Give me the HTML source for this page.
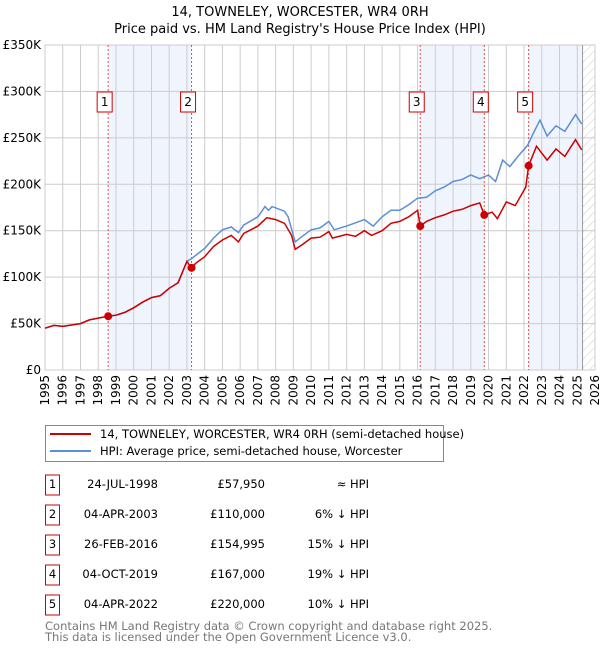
<!DOCTYPE html>
<html><head><meta charset="utf-8"><style>
body{margin:0;background:#fff;font-family:"Liberation Sans","DejaVu Sans",sans-serif;}
#wrap{position:relative;width:600px;height:650px;overflow:hidden}
svg text{font-family:"DejaVu Sans","Liberation Sans",sans-serif}
</style></head><body>
<div id="wrap">
<svg id="chart" width="600" height="650"></svg>
</div>
<script>
const redX=[1995,1995.5,1996,1997,1997.5,1998.56,1999,1999.5,2000,2000.5,2001,2001.5,2002,2002.5,2003.0,2003.26,2003.5,2004,2004.5,2005,2005.5,2005.9,2006.2,2007,2007.5,2008,2008.5,2008.9,2009.1,2009.5,2010,2010.5,2011,2011.2,2012,2012.5,2013,2013.4,2014,2014.5,2015,2015.5,2016.0,2016.15,2016.5,2017,2017.5,2018,2018.5,2019,2019.5,2019.76,2020.2,2020.5,2021,2021.5,2022.1,2022.26,2022.7,2023.3,2023.8,2024.3,2024.9,2025.25];
const redV=[45,48,47,50,54,57.95,59,62,67,73,78,80,88,94,117,110,115,122,133,140,145,138,147,155,164,162,158,145,130,135,142,143,149,142,146,144,150,145,150,158,160,165,172,155,160,164,167,171,173,177,180,167,170,163,181,177,197,220,241,226,238,230,248,237];
const hpiX=[1995,1995.5,1996,1997,1997.5,1998.56,1999,1999.5,2000,2000.5,2001,2001.5,2002,2002.5,2003.0,2003.26,2004,2004.5,2005,2005.5,2005.9,2006.2,2007,2007.4,2007.6,2007.8,2008.5,2008.7,2009.1,2009.5,2010,2010.5,2011,2011.3,2012,2013,2013.5,2014,2014.5,2015,2015.5,2016,2016.5,2017,2017.5,2018,2018.5,2019,2019.5,2020,2020.4,2020.8,2021.2,2021.7,2022.2,2022.6,2022.9,2023.3,2023.8,2024.3,2024.9,2025.25];
const hpiV=[45,48,47,50,54,58,59,62,67,73,78,80,88,94,117,120,131,142,151,154,148,156,165,176,172,176,171,165,138,144,151,153,160,151,155,162,155,165,172,172,178,185,186,193,197,203,205,210,206,210,203,226,219,231,242,258,269,252,263,257,275,265];
const saleX=[1998.56,2003.26,2016.15,2019.76,2022.26];
const saleV=[57.95,110,154.995,167,220];
const saleLbl=["1","2","3","4","5"];
const yTicks=[0,50,100,150,200,250,300,350];
const yLbl=["£0","£50K","£100K","£150K","£200K","£250K","£300K","£350K"];
const years=[];for(let y=1995;y<=2026;y++)years.push(y);
const shades=[[1998.56,2003.26],[2016.15,2019.76],[2022.26,2025.3]];
const dates=["24-JUL-1998","04-APR-2003","26-FEB-2016","04-OCT-2019","04-APR-2022"];
const prices=["£57,950","£110,000","£154,995","£167,000","£220,000"];
const rel=["≈ HPI","6% ↓ HPI","15% ↓ HPI","19% ↓ HPI","10% ↓ HPI"];

const L=45,R=595,T=45,B=370;
const sx=v=>L+(v-1995)/31*(R-L), sy=v=>B-v/350*(B-T);
const svg=document.getElementById('chart');const NS='http://www.w3.org/2000/svg';
function el(t,a,p){const e=document.createElementNS(NS,t);for(const k in a)e.setAttribute(k,a[k]);(p||svg).appendChild(e);return e;}
const defs=el('defs',{});const pat=el('pattern',{id:'hatch',width:6,height:6,patternUnits:'userSpaceOnUse',patternTransform:'rotate(45)'},defs);
el('line',{x1:0,y1:0,x2:0,y2:6,stroke:'#ccc','stroke-width':1},pat);
shades.forEach((s,i)=>{const r=el('rect',{x:sx(s[0]),y:T,width:sx(s[1])-sx(s[0]),height:B-T,fill:'#f0f4fd'});
});
const h=el('rect',{x:sx(2025.3),y:T,width:R-sx(2025.3),height:B-T,fill:'url(#hatch)'});

years.forEach(y=>{el('line',{x1:sx(y),y1:T,x2:sx(y),y2:B,stroke:'#ccc','stroke-width':1});
const t=el('text',{x:0,y:0,'font-size':12,fill:'#000','text-anchor':'end',transform:`translate(${sx(y)+4},${B+5}) rotate(-90)`});t.textContent=y;
});
yTicks.forEach((v,i)=>{el('line',{x1:L,y1:sy(v),x2:R,y2:sy(v),stroke:'#ccc','stroke-width':1});
const t=el('text',{x:L-4,y:sy(v)+4,'font-size':12,'text-anchor':'end',fill:'#000'});t.textContent=yLbl[i];
});
el('rect',{x:L,y:T,width:R-L,height:B-T,fill:'none',stroke:'#ccc'});
el('line',{x1:sx(2025.3),y1:T,x2:sx(2025.3),y2:B,stroke:'#999'});
saleX.forEach((x,i)=>{const l=el('line',{x1:sx(x),y1:T,x2:sx(x),y2:B,stroke:'#e05050','stroke-width':1,'stroke-dasharray':'2,2'});
});
function path(xs,vs,c,n){const d=xs.map((x,i)=>(i?'L':'M')+sx(x).toFixed(1)+','+sy(vs[i]).toFixed(1)).join('');
const p=el('path',{d:d,fill:'none',stroke:c,'stroke-width':1.5});}
path(hpiX,hpiV,'#5b8fd6','hpi-line');path(redX,redV,'#cc0000','price-paid-line');
saleX.forEach((x,i)=>{const c=el('circle',{cx:sx(x),cy:sy(saleV[i]),r:4,fill:'#cc0000'});

const g=el('g',{});
el('rect',{x:sx(x)-11,y:92,width:15,height:20,fill:'#fff',stroke:'#cc0000'},g);
const t=el('text',{x:sx(x)-3.5,y:106,'font-size':12,'text-anchor':'middle'},g);t.textContent=saleLbl[i];});
const t1=el('text',{x:300,y:16,'font-size':13,'text-anchor':'middle'});t1.textContent='14, TOWNELEY, WORCESTER, WR4 0RH';

const t2=el('text',{x:300,y:33,'font-size':13,'text-anchor':'middle'});t2.textContent="Price paid vs. HM Land Registry's House Price Index (HPI)";

const lg=el('g',{});
el('rect',{x:45.5,y:425.5,width:398,height:36,fill:'#fff',stroke:'#888'},lg);
el('line',{x1:50,y1:434,x2:91,y2:434,stroke:'#cc0000','stroke-width':2},lg);
el('line',{x1:50,y1:451,x2:91,y2:451,stroke:'#5b8fd6','stroke-width':2},lg);
let a=el('text',{x:100,y:438,'font-size':11.5},lg);a.textContent='14, TOWNELEY, WORCESTER, WR4 0RH (semi-detached house)';
a=el('text',{x:100,y:455,'font-size':11.5},lg);a.textContent='HPI: Average price, semi-detached house, Worcester';
const rowsY=[487,517,547,577,607];
saleLbl.forEach((s,i)=>{const g=el('g',{});
const y=rowsY[i];el('rect',{x:45.5,y:y-12,width:14,height:20,fill:'#fff',stroke:'#cc0000'},g);
let t=el('text',{x:52.5,y:y+1,'font-size':11.5,'text-anchor':'middle'},g);t.textContent=s;
t=el('text',{x:158,y:y+1,'font-size':11.5,'text-anchor':'end'},g);t.textContent=dates[i];
t=el('text',{x:265,y:y+1,'font-size':11.5,'text-anchor':'end'},g);t.textContent=prices[i];
t=el('text',{x:369,y:y+1,'font-size':11.5,'text-anchor':'end'},g);t.textContent=rel[i];});
a=el('text',{x:45,y:630,'font-size':11.5,fill:'#777'});a.textContent='Contains HM Land Registry data © Crown copyright and database right 2025.';

a=el('text',{x:45,y:641,'font-size':11.5,fill:'#777'});a.textContent='This data is licensed under the Open Government Licence v3.0.';

</script>
</body></html>
